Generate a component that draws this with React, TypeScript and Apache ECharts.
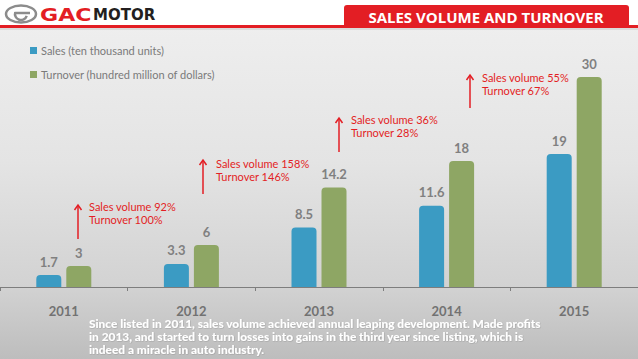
import React, { useEffect, useRef } from "react";
import * as echarts from "echarts";

const years = ["2011", "2012", "2013", "2014", "2015"];
const salesValues = [1.7, 3.3, 8.5, 11.6, 19];
const turnoverValues = [3, 6, 14.2, 18, 30];
const seriesNames = ["Sales (ten thousand units)", "Turnover (hundred million of dollars)"];
const growthNotes = [
  ["Sales volume 92%", "Turnover 100%"],
  ["Sales volume 158%", "Turnover 146%"],
  ["Sales volume 36%", "Turnover 28%"],
  ["Sales volume 55%", "Turnover 67%"],
];
const titleText = "SALES VOLUME AND TURNOVER";
const footnote = [
  "Since listed in 2011, sales volume achieved annual leaping development. Made profits",
  "in 2013, and started to turn losses into gains in the third year since listing, which is",
  "indeed a miracle in auto industry.",
];

const RED = "#e31e24";
const BLUE = "#3b9bc3";
const GREEN = "#8ea664";
const GRAY = "#808080";

// annotation placements (arrow x, arrow top y, arrow bottom y, text x, text y)
const notePos = [
  [78, 205, 239, 89, 213],
  [203, 160, 194, 216, 170],
  [339, 118, 152, 351, 126],
  [470, 75, 108, 482, 84],
];

export default function App() {
  const ref = useRef<HTMLDivElement>(null);
  useEffect(() => {
    if (!ref.current) return;
    const chart = echarts.init(ref.current, undefined, { renderer: "svg" });
    const graphics: any[] = [];
    graphics.push({ type: "rect", shape: { x: 0, y: 0, width: 638, height: 25 }, style: { fill: "#ffffff" }, z: -1 });
    graphics.push({ type: "rect", shape: { x: 0, y: 25, width: 638, height: 3 }, style: { fill: RED }, z: 1 });
    graphics.push({ type: "rect", shape: { x: 0, y: 28, width: 638, height: 2 }, style: { fill: "rgba(0,0,0,0.08)" }, z: 1 });
    graphics.push({ type: "rect", shape: { x: 344, y: 5, width: 285, height: 22, r: [3, 3, 0, 0] }, style: { fill: RED }, z: 2 });
    graphics.push({
      type: "text", x: 486, y: 17, z: 3,
      style: { text: titleText, fill: "#ffffff", fontFamily: "'Open Sans', sans-serif", fontWeight: "bold", fontSize: 15, align: "center", verticalAlign: "middle" },
    });
    // logo emblem
    graphics.push({ type: "ellipse", shape: { cx: 21, cy: 14, rx: 15, ry: 8.5 }, style: { fill: "none", stroke: "#8c8c8c", lineWidth: 2.5 }, z: 2 });
    graphics.push({ type: "arc", shape: { cx: 21, cy: 14, r: 6, startAngle: Math.PI * 0.1, endAngle: Math.PI * 1.1 }, style: { fill: "none", stroke: "#8c8c8c", lineWidth: 2.5 }, z: 2 });
    graphics.push({ type: "line", shape: { x1: 15, y1: 13, x2: 30, y2: 13 }, style: { stroke: "#8c8c8c", lineWidth: 2.5 }, z: 2 });
    graphics.push({
      type: "text", x: 40, y: 15, z: 3, scaleX: 1.3,
      style: { text: "GAC", fill: RED, fontFamily: "'DejaVu Sans', sans-serif", fontWeight: "bold", fontSize: 17, verticalAlign: "middle" },
    });
    graphics.push({
      type: "text", x: 93, y: 15, z: 3,
      style: { text: "MOTOR", fill: "#231f20", fontFamily: "'DejaVu Sans', sans-serif", fontWeight: "bold", fontSize: 15, verticalAlign: "middle" },
    });
    growthNotes.forEach((lines, i) => {
      const [ax, ay1, ay2, tx, ty] = notePos[i];
      graphics.push({ type: "line", shape: { x1: ax, y1: ay1, x2: ax, y2: ay2 }, style: { stroke: RED, lineWidth: 1.5 }, z: 3 });
      graphics.push({ type: "polyline", shape: { points: [[ax - 3.5, ay1 + 5], [ax, ay1], [ax + 3.5, ay1 + 5]] }, style: { stroke: RED, lineWidth: 1.5, fill: "none" }, z: 3 });
      graphics.push({
        type: "text", x: tx, y: ty, z: 3,
        style: { text: lines.join("\n"), fill: RED, fontFamily: "Lato, sans-serif", fontSize: 11, lineHeight: 13, verticalAlign: "middle" },
      });
    });
    footnote.forEach((line, i) => {
      graphics.push({
        type: "text", x: 89, y: 324 + i * 13, z: 3, scaleX: 1.08,
        style: {
          text: line, fill: "#ffffff", fontFamily: "Lato, sans-serif", fontWeight: 900, fontSize: 11, verticalAlign: "middle",
          textShadowColor: "rgba(0,0,0,0.2)", textShadowBlur: 1, textShadowOffsetX: 0.5, textShadowOffsetY: 0.5,
        },
      });
    });

    chart.setOption({
      animation: false,
      backgroundColor: {
        type: "linear", x: 0, y: 0, x2: 0, y2: 1,
        colorStops: [
          { offset: 0, color: "#f0f0f0" },
          { offset: 0.45, color: "#e4e4e4" },
          { offset: 0.8, color: "#d2d2d2" },
          { offset: 1, color: "#bdbdbd" },
        ],
      },
      legend: {
        orient: "vertical", left: 25, top: 40, itemWidth: 7, itemHeight: 7, itemGap: 13,
        icon: "rect",
        textStyle: { color: "#7a7a7a", fontSize: 11, fontFamily: "Lato, sans-serif", padding: [0, 0, 0, -1] },
        data: seriesNames,
      },
      grid: { left: 0, right: 0, top: 7, bottom: 72, containLabel: false },
      xAxis: {
        type: "category", data: years,
        axisLine: { lineStyle: { color: "#7d7d7d", width: 1 } },
        axisTick: { show: true, length: 4, lineStyle: { color: "#7d7d7d" } },
        axisLabel: { color: "#727272", fontWeight: "bold", fontSize: 13, lineHeight: 13, fontFamily: "Lato, sans-serif", margin: 17 },
      },
      yAxis: { type: "value", min: 0, max: 40, show: false, splitLine: { show: false } },
      series: [
        {
          name: seriesNames[0], type: "bar", data: salesValues, barWidth: 25, barGap: "20%",
          itemStyle: { color: BLUE, borderRadius: [4, 4, 0, 0] },
          label: { show: true, position: "top", distance: 7, color: GRAY, fontWeight: "bold", fontSize: 13, fontFamily: "Lato, sans-serif" },
        },
        {
          name: seriesNames[1], type: "bar", data: turnoverValues, barWidth: 25, barGap: "20%",
          itemStyle: { color: GREEN, borderRadius: [4, 4, 0, 0] },
          label: { show: true, position: "top", distance: 7, color: GRAY, fontWeight: "bold", fontSize: 13, fontFamily: "Lato, sans-serif" },
        },
      ],
      graphic: graphics,
    });
    return () => chart.dispose();
  }, []);
  return <div ref={ref} style={{ position: "fixed", left: 0, top: 0, width: 638, height: 359 }} />;
}
